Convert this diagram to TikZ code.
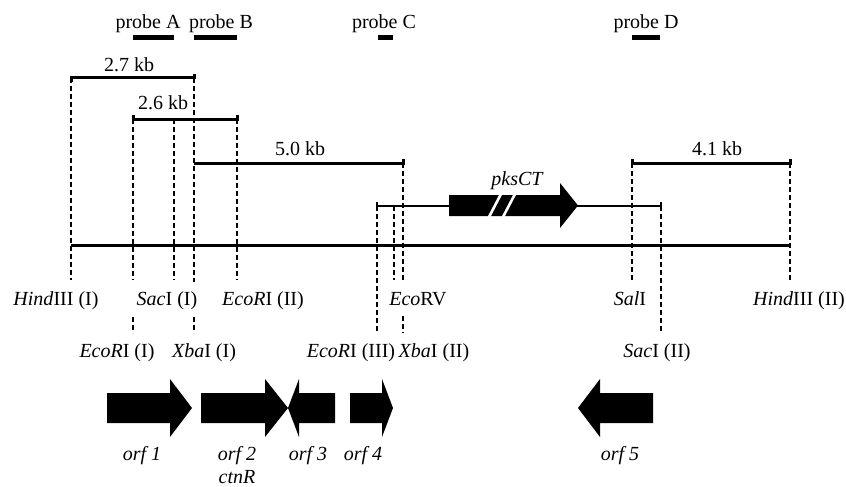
\documentclass[tikz,border=0pt]{standalone}
\usepackage{fontspec}
\setmainfont{Liberation Serif}
\begin{document}
\begin{tikzpicture}[x=1pt,y=-1pt,
  lbl/.style={inner sep=0pt,anchor=base,font=\fontsize{20}{24}\selectfont},
  site/.style={densely dashed,dash pattern=on 5pt off 3pt,line width=1.1pt},
  frag/.style={line width=3pt},
  probebar/.style={line width=5pt},
  orf/.style={fill=black,draw=none}]
\useasboundingbox (0,0) rectangle (846,487);

% ---- probes
\foreach \n/\a/\b/\c/\t in {pa/133/174/148/A, pb/194/237/221/B, pc/378/393/384/C, pd/632/660/646/D}{
  \coordinate (\n l) at (\a,38);
  \coordinate (\n r) at (\b,38);
  \draw[probebar] (\n l) -- (\n r);
  \node[lbl] (\n t) at (\c,29) {probe \t};
}

% ---- restriction site coordinates
\coordinate (h1t) at (71,78);   \coordinate (h1b) at (71,280);
\coordinate (e1t) at (133,119); \coordinate (e1b) at (133,280);
\coordinate (e1u) at (133,317); \coordinate (e1v) at (133,333);
\coordinate (s1t) at (174,119); \coordinate (s1b) at (174,280);
\coordinate (x1t) at (194,78);  \coordinate (x1b) at (194,282);
\coordinate (x1u) at (194,317); \coordinate (x1v) at (194,333);
\coordinate (e2t) at (237,119); \coordinate (e2b) at (237,280);
\coordinate (e3t) at (377,206); \coordinate (e3b) at (377,333);
\coordinate (evt) at (394,206); \coordinate (evb) at (394,280);
\coordinate (x2t) at (403,163); \coordinate (x2b) at (403,282);
\coordinate (x2u) at (403,316); \coordinate (x2v) at (403,333);
\coordinate (slt) at (632,163); \coordinate (slb) at (632,280);
\coordinate (s2t) at (661,206); \coordinate (s2b) at (661,333);
\coordinate (h2t) at (790,163); \coordinate (h2b) at (790,280);

% ---- dashed site lines
\foreach \p/\q in {h1t/h1b, e1t/e1b, e1u/e1v, s1t/s1b, x1t/x1b, x1u/x1v,
                   e2t/e2b, e3t/e3b, evt/evb, x2t/x2b, x2u/x2v, slt/slb,
                   s2t/s2b, h2t/h2b}
  \draw[site] (\p) -- (\q);

% ---- main map line
\coordinate (mL) at (71,245);
\coordinate (mR) at (790,245);
\draw[line width=3pt] (mL) -- (mR);

% ---- fragments
\draw[frag] ([yshift=-4pt]h1t) -- (h1t) -- (x1t) -- ([yshift=4pt]x1t);
\node[lbl] (f27) at (129,71) {2.7 kb};
\draw[frag] ([yshift=4pt]e1t) -- (e1t) -- (e2t) -- ([yshift=4pt]e2t);
\node[lbl] (f26) at (163,110) {2.6 kb};
\draw[frag] (194,163) -- (x2t) -- ([yshift=4pt]x2t);
\node[lbl] (f50) at (300,155) {5.0 kb};
\draw[frag] ([yshift=4pt]slt) -- (slt) -- (h2t) -- ([yshift=4pt]h2t);
\node[lbl] (f41) at (717,155) {4.1 kb};

% ---- pksCT cosmid line and gene
\draw[line width=2pt] ([yshift=4pt]e3t) -- (e3t) -- (s2t) -- ([yshift=4pt]s2t);
\fill[orf] (449,195) -- (560,195) -- (560,183) -- (578,205.5) -- (560,228)
           -- (560,216) -- (449,216) -- cycle;
\draw[white,line width=2.6pt] (489,217) -- (501,194);
\draw[white,line width=2.6pt] (503,217) -- (515,194);
\node[lbl,font=\fontsize{20}{24}\selectfont\itshape] (pks) at (517,185) {pksCT};

% ---- site labels
\node[lbl] (lh1) at (56,305)  {\textit{Hind}III (I)};
\node[lbl] (ls1) at (167,305) {\textit{Sac}I (I)};
\node[lbl] (le2) at (263,305) {\textit{EcoR}I (II)};
\node[lbl] (lev) at (418,305) {\textit{Eco}RV};
\node[lbl] (lsl) at (630,305) {\textit{Sal}I};
\node[lbl] (lh2) at (799,305) {\textit{Hind}III (II)};
\node[lbl] (le1) at (117,357) {\textit{EcoR}I (I)};
\node[lbl] (lx1) at (204,357) {\textit{Xba}I (I)};
\node[lbl] (le3) at (351,357) {\textit{EcoR}I (III)};
\node[lbl] (lx2) at (434,357) {\textit{Xba}I (II)};
\node[lbl] (ls2) at (657,357) {\textit{Sac}I (II)};

% ---- open reading frames
\fill[orf] (107,393) -- (170,393) -- (170,379) -- (192,408) -- (170,437)
           -- (170,423) -- (107,423) -- cycle;
\fill[orf] (201,393) -- (265,393) -- (265,379) -- (288,408) -- (265,437)
           -- (265,423) -- (201,423) -- cycle;
\fill[orf] (335,393) -- (299,393) -- (299,379) -- (288,408) -- (299,437)
           -- (299,423) -- (335,423) -- cycle;
\fill[orf] (350,393) -- (382,393) -- (382,379) -- (393,408) -- (382,437)
           -- (382,423) -- (350,423) -- cycle;
\fill[orf] (653,393) -- (600,393) -- (600,379) -- (578,408) -- (600,437)
           -- (600,423) -- (653,423) -- cycle;

\node[lbl,font=\fontsize{20}{24}\selectfont\itshape] (o1) at (142,460) {orf 1};
\node[lbl,font=\fontsize{20}{24}\selectfont\itshape] (o2) at (237,460) {orf 2};
\node[lbl,font=\fontsize{20}{24}\selectfont\itshape] (o2b) at (237,483) {ctnR};
\node[lbl,font=\fontsize{20}{24}\selectfont\itshape] (o3) at (308,460) {orf 3};
\node[lbl,font=\fontsize{20}{24}\selectfont\itshape] (o4) at (363,460) {orf 4};
\node[lbl,font=\fontsize{20}{24}\selectfont\itshape] (o5) at (620,460) {orf 5};
\end{tikzpicture}
\end{document}
